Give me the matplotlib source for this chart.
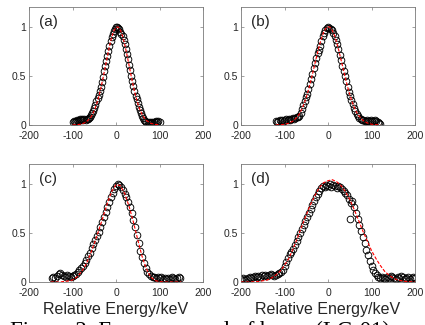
import matplotlib
matplotlib.use("Agg")
import matplotlib.pyplot as plt

plt.rcParams['font.family'] = ['Liberation Sans', 'DejaVu Sans']
plt.rcParams['axes.unicode_minus'] = False

# ---------------- data ----------------
xa = [-100, -97.5, -95, -92.5, -90, -87.5, -85, -82.5, -80, -77.5, -75, -72.5, -70, -67.5, -65, -62.5,
      -60, -57.5, -55, -52.5, -50, -47.5, -45, -42.5, -40, -37.5, -35, -32.5, -30, -27.5, -25, -22.5,
      -20, -17.5, -15, -12.5, -10, -7.5, -5, -2.5, 0, 2.5, 5, 7.5, 10, 12.5, 15, 17.5, 20, 22.5, 25,
      27.5, 30, 32.5, 35, 37.5, 40, 42.5, 45, 47.5, 50, 52.5, 55, 57.5, 60, 62.5, 65, 67.5, 70, 72.5,
      75, 77.5, 80, 82.5, 85, 87.5, 90, 92.5, 95, 97.5, 100]
ya = [0.03, 0.04, 0.03, 0.04, 0.05, 0.04, 0.05, 0.06, 0.05, 0.06, 0.05, 0.06, 0.05, 0.06, 0.06, 0.07,
      0.08, 0.10, 0.12, 0.14, 0.17, 0.20, 0.24, 0.27, 0.31, 0.35, 0.39, 0.44, 0.49, 0.55, 0.60, 0.65,
      0.70, 0.75, 0.80, 0.85, 0.89, 0.93, 0.96, 0.98, 1.00, 1.00, 0.99, 0.98, 0.95, 0.93, 0.90, 0.86,
      0.82, 0.77, 0.72, 0.67, 0.61, 0.56, 0.50, 0.45, 0.40, 0.35, 0.30, 0.26, 0.22, 0.18, 0.15, 0.12,
      0.09, 0.07, 0.05, 0.04, 0.03, 0.03, 0.02, 0.03, 0.02, 0.03, 0.02, 0.03, 0.03, 0.04, 0.03, 0.04, 0.03]
fxa = [-100, -90, -80, -70, -60, -55, -50, -45, -40, -35, -30, -25, -20, -15, -10, -5, 0, 5, 10, 15,
       20, 25, 30, 35, 40, 45, 50, 55, 60, 65, 70, 80, 90, 100]
fya = [0.001, 0.003, 0.009, 0.026, 0.066, 0.10, 0.146, 0.206, 0.281, 0.371, 0.474, 0.584, 0.696, 0.801,
       0.891, 0.957, 0.994, 0.997, 0.967, 0.906, 0.820, 0.717, 0.607, 0.496, 0.391, 0.298, 0.220, 0.156,
       0.108, 0.072, 0.046, 0.017, 0.006, 0.002]

xb = [-120, -117, -114, -111, -108, -105, -102, -99, -96, -93, -90, -87, -84, -81, -78, -75, -72, -69,
      -66, -63, -60, -57, -54, -51, -48, -45, -42, -39, -36, -33, -30, -27, -24, -21, -18, -15, -12, -9,
      -6, -3, 0, 3, 6, 9, 12, 15, 18, 21, 24, 27, 30, 33, 36, 39, 42, 45, 48, 51, 54, 57, 60, 63, 66,
      69, 72, 75, 78, 81, 84, 87, 90, 93, 96, 99, 102, 105, 108, 111, 114, 117, 120]
yb = [0.04, 0.03, 0.04, 0.05, 0.04, 0.05, 0.04, 0.05, 0.06, 0.05, 0.06, 0.05, 0.06, 0.07, 0.06, 0.07,
      0.08, 0.08, 0.09, 0.12, 0.16, 0.20, 0.24, 0.28, 0.32, 0.37, 0.42, 0.47, 0.52, 0.58, 0.63, 0.68,
      0.73, 0.76, 0.80, 0.85, 0.90, 0.94, 0.97, 0.99, 1.00, 0.99, 0.98, 0.97, 0.94, 0.91, 0.86, 0.82,
      0.77, 0.71, 0.66, 0.60, 0.55, 0.50, 0.45, 0.39, 0.34, 0.29, 0.25, 0.21, 0.17, 0.14, 0.11, 0.09,
      0.07, 0.06, 0.05, 0.05, 0.04, 0.04, 0.05, 0.04, 0.04, 0.05, 0.04, 0.04, 0.05, 0.04, 0.03, 0.02, 0.01]
fxb = [-120, -110, -100, -90, -80, -70, -65, -60, -55, -50, -45, -40, -35, -30, -25, -20, -15, -10, -5,
       0, 5, 10, 15, 20, 25, 30, 35, 40, 45, 50, 55, 60, 65, 70, 80, 90, 100, 110, 120]
fyb = [0.001, 0.002, 0.007, 0.018, 0.041, 0.085, 0.119, 0.162, 0.216, 0.281, 0.356, 0.440, 0.531,
       0.626, 0.719, 0.806, 0.882, 0.943, 0.983, 1.0, 0.992, 0.961, 0.909, 0.838, 0.755, 0.663, 0.569,
       0.476, 0.389, 0.310, 0.241, 0.183, 0.135, 0.098, 0.048, 0.021, 0.008, 0.003, 0.001]

xc = [-148, -144, -140, -136, -132, -128, -124, -120, -116, -112, -108, -104, -100, -96, -92, -88, -84,
      -80, -76, -72, -68, -64, -60, -56, -52, -48, -44, -40, -36, -32, -28, -24, -20, -16, -12, -8, -4,
      0, 4, 8, 12, 16, 20, 24, 28, 32, 36, 40, 44, 48, 52, 56, 60, 64, 68, 72, 76, 80, 84, 88, 92, 96,
      100, 104, 108, 112, 116, 120, 124, 128, 132, 136, 140, 144, 148]
yc = [0.04, 0.05, 0.04, 0.06, 0.08, 0.09, 0.07, 0.06, 0.05, 0.07, 0.06, 0.05, 0.06, 0.07, 0.08, 0.10,
      0.12, 0.14, 0.16, 0.19, 0.22, 0.26, 0.30, 0.35, 0.39, 0.43, 0.47, 0.51, 0.56, 0.61, 0.66, 0.71,
      0.76, 0.81, 0.86, 0.91, 0.95, 0.98, 1.00, 0.99, 0.97, 0.94, 0.90, 0.86, 0.81, 0.76, 0.70, 0.63,
      0.56, 0.48, 0.40, 0.32, 0.25, 0.19, 0.14, 0.10, 0.08, 0.06, 0.05, 0.05, 0.04, 0.05, 0.04, 0.05,
      0.03, 0.04, 0.03, 0.04, 0.03, 0.05, 0.04, 0.03, 0.04, 0.05, 0.04]
fxc = [-150, -140, -130, -120, -110, -100, -90, -80, -70, -60, -50, -40, -30, -20, -10, 0, 10, 20, 30,
       40, 50, 60, 70, 80, 90, 100, 110, 120, 130, 140, 150]
fyc = [0.0, 0.0, 0.0, 0.005, 0.01, 0.02, 0.05, 0.10, 0.17, 0.27, 0.39, 0.52, 0.66, 0.80, 0.92, 0.99,
       0.98, 0.90, 0.77, 0.61, 0.43, 0.26, 0.13, 0.05, 0.015, 0.004, 0.0, 0.0, 0.0, 0.0, 0.0]

xd = [-200, -196, -192, -188, -184, -180, -176, -172, -168, -164, -160, -156, -152, -148, -144, -140,
      -136, -132, -128, -124, -120, -116, -112, -108, -104, -100, -96, -92, -88, -84, -80, -76, -72,
      -68, -64, -60, -56, -52, -48, -44, -40, -36, -32, -28, -24, -20, -16, -12, -8, -4, 0, 4, 8, 12,
      16, 20, 24, 28, 32, 36, 40, 44, 48, 50, 52, 56, 60, 64, 68, 72, 76, 80, 84, 88, 92, 96, 100, 104,
      108, 112, 116, 120, 124, 128, 132, 136, 140, 144, 148, 152, 156, 160, 164, 168, 172, 176, 180,
      184, 188, 192, 196, 200]
yd = [0.03, 0.04, 0.02, 0.03, 0.04, 0.05, 0.04, 0.05, 0.06, 0.05, 0.06, 0.05, 0.07, 0.06, 0.07, 0.06,
      0.07, 0.08, 0.07, 0.06, 0.07, 0.08, 0.09, 0.10, 0.12, 0.16, 0.20, 0.24, 0.28, 0.31, 0.34, 0.38,
      0.42, 0.46, 0.50, 0.54, 0.58, 0.62, 0.66, 0.70, 0.74, 0.78, 0.82, 0.86, 0.89, 0.93, 0.96, 0.98,
      0.97, 0.99, 0.98, 1.00, 0.97, 0.99, 0.98, 0.96, 0.98, 0.97, 0.95, 0.93, 0.91, 0.88, 0.84, 0.64,
      0.80, 0.82, 0.76, 0.70, 0.64, 0.58, 0.52, 0.46, 0.40, 0.33, 0.27, 0.21, 0.16, 0.12, 0.09, 0.07,
      0.05, 0.04, 0.05, 0.04, 0.03, 0.05, 0.04, 0.06, 0.05, 0.04, 0.03, 0.05, 0.04, 0.06, 0.05, 0.03,
      0.04, 0.05, 0.03, 0.04, 0.05, 0.04]
fxd = [-200, -180, -160, -140, -130, -120, -110, -100, -90, -80, -70, -60, -50, -40, -30, -20, -10, 0,
       10, 20, 30, 40, 50, 60, 70, 80, 90, 100, 110, 120, 130, 140, 150, 160, 180, 200]
fyd = [0.0, 0.0, 0.005, 0.02, 0.04, 0.07, 0.11, 0.17, 0.24, 0.34, 0.45, 0.57, 0.68, 0.79, 0.88, 0.96,
       1.01, 1.03, 1.04, 1.02, 0.98, 0.92, 0.84, 0.74, 0.63, 0.52, 0.42, 0.32, 0.24, 0.17, 0.11, 0.07,
       0.04, 0.02, 0.005, 0.0]

panel_labels = ['(a)', '(b)', '(c)', '(d)']
xticks = [-200, -100, 0, 100, 200]
yticks = [0, 0.5, 1]
ytick_labels = ['0', '0.5', '1']
xlabel = 'Relative Energy/keV'
caption = 'Figure 2. Energy spread of beam (LC-01)'

# ---------------- figure ----------------
W, H = 425, 325
fig = plt.figure(figsize=(W / 100, H / 100), dpi=100)

def px_axes(l, t, r, b):
    return fig.add_axes([l / W, 1 - b / H, (r - l) / W, (b - t) / H])

boxes = [(29, 7, 203, 125), (241, 7, 415, 125), (29, 164, 203, 282), (241, 164, 415, 282)]
datasets = [(xa, ya, fxa, fya), (xb, yb, fxb, fyb), (xc, yc, fxc, fyc), (xd, yd, fxd, fyd)]

spine_col = '#7a7a7a'
text_col = '#262626'
for i, (box, (x, y, fx, fy)) in enumerate(zip(boxes, datasets)):
    ax = px_axes(*box)
    ax.plot(x, y, linestyle='none', marker='o', ms=4.8, mfc='none', mec='black', mew=0.65, zorder=2)
    ax.plot(fx, fy, color='red', linestyle='--', lw=0.8, dashes=(3, 1.5), zorder=3)
    ax.set_xlim(-200, 200)
    ax.set_ylim(0, 1.2)
    ax.set_xticks(xticks)
    ax.set_xticklabels([str(t) for t in xticks])
    ax.set_yticks(yticks)
    ax.set_yticklabels(ytick_labels)
    for s in ax.spines.values():
        s.set_color(spine_col)
        s.set_linewidth(0.6)
    ax.tick_params(direction='in', length=2, width=0.5, color=spine_col, labelsize=7.5,
                   labelcolor=text_col, top=True, right=True)
    ax.tick_params(axis='x', pad=4)
    ax.tick_params(axis='y', pad=2)
    ax.text(-178, 1.05, panel_labels[i], fontsize=11, color=text_col, va='center', ha='left')
    if i >= 2:
        ax.set_xlabel(xlabel, fontsize=11.5, color=text_col, labelpad=3.5)

fig.text(10 / W, -0.036, caption, family='Liberation Serif', fontsize=16.5, color='black',
         va='baseline', ha='left')

fig.savefig('out.png', dpi=100)
